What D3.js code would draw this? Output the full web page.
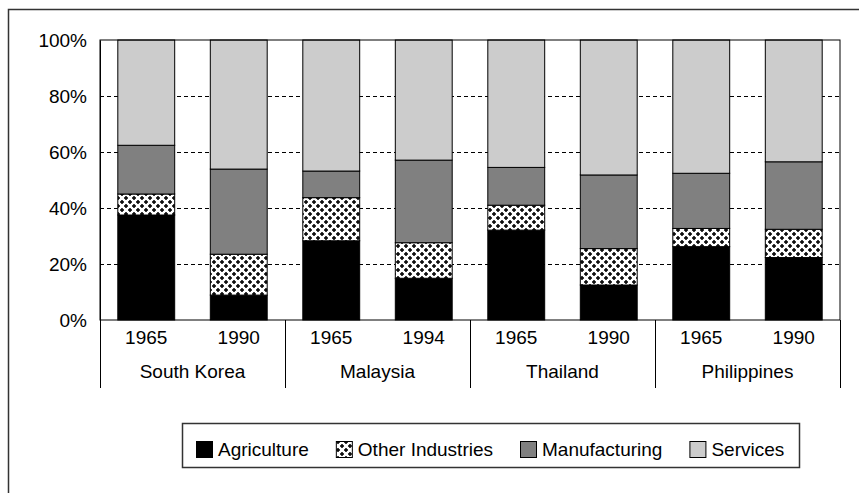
<!DOCTYPE html>
<html lang="en">
<head>
<meta charset="utf-8">
<title>Sector shares of GDP</title>
<script src="https://cdn.jsdelivr.net/npm/d3@7/dist/d3.min.js"></script>
<style>
  body { margin: 0; background: #fff; }
  text { font-family: "Liberation Sans", Arial, sans-serif; fill: #000; }
</style>
</head>
<body>
<script>
// data (percent of total)
var countries = ["South Korea", "Malaysia", "Thailand", "Philippines"];
var years = [["1965", "1990"], ["1965", "1994"], ["1965", "1990"], ["1965", "1990"]];
var sectors = ["Agriculture", "Other Industries", "Manufacturing", "Services"];
var agriculture     = [37.5, 8.9, 28.3, 14.9, 32.1, 12.5, 26.2, 22.3];
var otherIndustries = [7.5, 14.6, 15.4, 12.7, 8.9, 13.0, 6.5, 10.1];
var manufacturing   = [17.4, 30.4, 9.5, 29.5, 13.5, 26.3, 19.7, 24.1];
var services        = [37.6, 46.1, 46.8, 42.9, 45.5, 48.2, 47.6, 43.5];
var yTicks = [0, 20, 40, 60, 80, 100];

var width = 859, height = 493;
var plotLeft = 100, plotRight = 840, plotTop = 40, plotBottom = 320;
var fontSize = "19px";

var svg = d3.select("body").append("svg").attr("width", width).attr("height", height);

// cross pattern for "Other Industries"
var defs = svg.append("defs");
var pat = defs.append("pattern").attr("id", "crosses")
  .attr("patternUnits", "userSpaceOnUse").attr("width", 8).attr("height", 8);
pat.append("rect").attr("width", 8).attr("height", 8).attr("fill", "#fff");
[[2, 2], [6, 6]].forEach(function (p) {
  pat.append("path").attr("d", "M" + (p[0] - 2) + "," + p[1] + "h4M" + p[0] + "," + (p[1] - 2) + "v4")
    .attr("stroke", "#000").attr("stroke-width", 1.5);
});

var fills = { "Agriculture": "#000", "Other Industries": "url(#crosses)", "Manufacturing": "#808080", "Services": "#cccccc" };

// outer frame
svg.append("rect").attr("x", 8.5).attr("y", 9.5).attr("width", 870).attr("height", 500)
  .attr("fill", "none").attr("stroke", "#333").attr("stroke-width", 1.5);

// rows
var keys = [];
countries.forEach(function (c, i) { years[i].forEach(function (yr) { keys.push(c + "|" + yr); }); });
var rows = keys.map(function (k, i) {
  return { key: k, "Agriculture": agriculture[i], "Other Industries": otherIndustries[i],
           "Manufacturing": manufacturing[i], "Services": services[i] };
});

var x = d3.scaleBand().domain(keys).range([plotLeft, plotRight]).paddingInner(0.385).paddingOuter(0.1925);
var xGroup = d3.scaleBand().domain(countries).range([plotLeft, plotRight]).padding(0);
var y = d3.scaleLinear().domain([0, 100]).range([plotBottom, plotTop]);

// gridlines
svg.append("g").selectAll("line").data(yTicks.filter(function (t) { return t > 0 && t < 100; }))
  .enter().append("line")
  .attr("x1", plotLeft).attr("x2", plotRight)
  .attr("y1", function (d) { return Math.round(y(d)) + 0.5; })
  .attr("y2", function (d) { return Math.round(y(d)) + 0.5; })
  .attr("stroke", "#000").attr("stroke-width", 1).attr("stroke-dasharray", "4,3");

// stacked bars
var stack = d3.stack().keys(sectors)(rows);
svg.append("g").selectAll("g").data(stack).enter().append("g")
  .attr("fill", function (d) { return fills[d.key]; })
  .selectAll("rect").data(function (d) { return d; }).enter().append("rect")
  .attr("x", function (d) { return x(d.data.key); })
  .attr("y", function (d) { return y(d[1]); })
  .attr("width", x.bandwidth())
  .attr("height", function (d) { return y(d[0]) - y(d[1]); })
  .attr("stroke", "#000").attr("stroke-width", 1);

// plot border
svg.append("rect").attr("x", plotLeft).attr("y", plotTop).attr("width", plotRight - plotLeft).attr("height", plotBottom - plotTop)
  .attr("fill", "none").attr("stroke", "#000").attr("stroke-width", 1);

// y axis
var yAxis = svg.append("g").attr("transform", "translate(" + plotLeft + ",0)")
  .call(d3.axisLeft(y).tickValues(yTicks).tickSize(0).tickPadding(13).tickFormat(function (d) { return d + "%"; }));
yAxis.select(".domain").attr("stroke", "#000");
yAxis.selectAll("text").style("font-size", fontSize).style("font-family", "Liberation Sans, Arial, sans-serif").attr("dy", "0.35em");

// category axis: years and countries
svg.append("g").selectAll("text").data(keys).enter().append("text")
  .attr("x", function (d) { return x(d) + x.bandwidth() / 2; })
  .attr("y", 344)
  .attr("text-anchor", "middle").style("font-size", fontSize)
  .text(function (d) { return d.split("|")[1]; });

svg.append("g").selectAll("text").data(countries).enter().append("text")
  .attr("x", function (d) { return xGroup(d) + xGroup.bandwidth() / 2; })
  .attr("y", 378)
  .attr("text-anchor", "middle").style("font-size", fontSize)
  .text(function (d) { return d; });

var bounds = countries.map(function (c) { return xGroup(c); }).concat([plotRight]);
svg.append("g").selectAll("line").data(bounds).enter().append("line")
  .attr("x1", function (d) { return Math.round(d) + 0.5; })
  .attr("x2", function (d) { return Math.round(d) + 0.5; })
  .attr("y1", plotBottom).attr("y2", 388)
  .attr("stroke", "#000").attr("stroke-width", 1);

// legend
var legend = svg.append("g");
legend.append("rect").attr("x", 182.5).attr("y", 423.5).attr("width", 617).attr("height", 44)
  .attr("fill", "#fff").attr("stroke", "#333").attr("stroke-width", 1.5);
var lx = 196;
sectors.forEach(function (s) {
  legend.append("rect").attr("x", lx + 0.5).attr("y", 441.5).attr("width", 16).attr("height", 16)
    .attr("fill", fills[s]).attr("stroke", "#000").attr("stroke-width", 1);
  var t = legend.append("text").attr("x", lx + 22).attr("y", 456).style("font-size", fontSize).text(s);
  lx += 22 + t.node().getComputedTextLength() + 27;
});
</script>
</body>
</html>
